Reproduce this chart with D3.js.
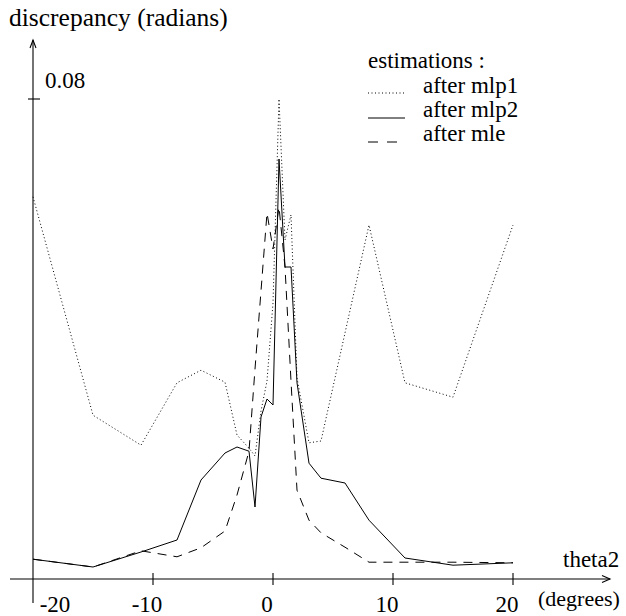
<!DOCTYPE html>
<html>
<head>
<meta charset="utf-8">
<script src="https://cdn.jsdelivr.net/npm/d3@7/dist/d3.min.js"></script>
<style>
  body { margin: 0; background: #fff; }
  svg { display: block; }
  svg text { font-family: "Liberation Serif", "Times New Roman", Times, "DejaVu Serif", serif !important; }
</style>
</head>
<body>
<svg class="chart"></svg>
<script>
// theta2 sample points (degrees)
var thetas = [-20, -15, -11, -8, -6, -4, -3, -2, -1.5, -1, -0.5, 0, 0.5, 1, 1.5, 2, 3, 4, 6, 8, 11, 15, 20];

// discrepancy (radians) for each estimator
var mlp1 = [0.0637, 0.0273, 0.0223, 0.0327, 0.0348, 0.0328, 0.0240, 0.0218, 0.0205, 0.0280, 0.0330, 0.0460,
            0.0800, 0.0565, 0.0607, 0.0335, 0.0227, 0.0230, 0.0410, 0.0590, 0.0327, 0.0303, 0.0590];
var mlp2 = [0.0033, 0.0020, 0.0045, 0.0065, 0.0165, 0.0210, 0.0220, 0.0213, 0.0120, 0.0270, 0.0300, 0.0290,
            0.0700, 0.0520, 0.0520, 0.0327, 0.0193, 0.0168, 0.0160, 0.0098, 0.0035, 0.0023, 0.0027];
var mle  = [0.0033, 0.0020, 0.0047, 0.0037, 0.0052, 0.0080, 0.0140, 0.0213, 0.0350, 0.0480, 0.0610, 0.0550,
            0.0620, 0.0520, 0.0330, 0.0148, 0.0098, 0.0077, 0.0053, 0.0028, 0.0028, 0.0028, 0.0027];

var xTicks = [-20, -10, 0, 10, 20];
var yTicks = [0.08];
var seriesNames = ["after mlp1", "after mlp2", "after mle"];

var width = 626, height = 616;
var dashes = ["1,2.5", null, "9,7"];

var svg = d3.select(".chart").attr("width", width).attr("height", height);

var x = d3.scaleLinear().domain([-20, 20]).range([33, 513]);
var y = d3.scaleLinear().domain([0, 0.08]).range([579, 99]);

// axes
var ax = svg.append("g").attr("stroke", "#000").attr("stroke-width", 1.1).attr("fill", "none");
ax.append("line").attr("x1", 10).attr("x2", 610).attr("y1", y(0)).attr("y2", y(0));
ax.append("path").attr("d", "M602," + (y(0) - 3.5) + "L610," + y(0) + "L602," + (y(0) + 3.5));
ax.append("line").attr("x1", x(-20)).attr("x2", x(-20)).attr("y1", 40).attr("y2", 603);
ax.append("path").attr("d", "M" + (x(-20) - 3) + ",48L" + x(-20) + ",40L" + (x(-20) + 3) + ",48");

ax.selectAll(".xt").data(xTicks.slice(1)).enter().append("line")
  .attr("x1", function(d) { return x(d); }).attr("x2", function(d) { return x(d); })
  .attr("y1", y(0) - 6).attr("y2", y(0) + 6);
ax.selectAll(".yt").data(yTicks).enter().append("line")
  .attr("x1", x(-20) - 5).attr("x2", x(-20) + 7)
  .attr("y1", function(d) { return y(d); }).attr("y2", function(d) { return y(d); });

svg.selectAll(".xl").data(xTicks).enter().append("text")
  .attr("x", function(d) { return d == -20 ? x(d) + 22 : x(d) - 6; })
  .attr("y", 612)
  .attr("text-anchor", "middle")
  .style("font-size", "23px")
  .text(function(d) { return d; });

svg.selectAll(".yl").data(yTicks).enter().append("text")
  .attr("x", x(-20) + 12)
  .attr("y", function(d) { return y(d) - 11; })
  .style("font-size", "23px")
  .text(function(d) { return d3.format(".2f")(d); });

svg.append("text").attr("x", 9).attr("y", 26).style("font-size", "25.5px").text("discrepancy (radians)");
svg.append("text").attr("x", 563).attr("y", 567).style("font-size", "23px").text("theta2");
svg.append("text").attr("x", 538).attr("y", 606).style("font-size", "22px").text("(degrees)");

// curves
var line = d3.line()
  .x(function(d) { return x(d[0]); })
  .y(function(d) { return y(d[1]); });

[mlp1, mlp2, mle].forEach(function(vals, i) {
  svg.append("path")
    .datum(thetas.map(function(t, j) { return [t, vals[j]]; }))
    .attr("d", line)
    .attr("fill", "none")
    .attr("stroke", "#000")
    .attr("stroke-width", 1)
    .attr("stroke-dasharray", dashes[i]);
});

// legend
var legend = svg.append("g");
legend.append("text").attr("x", 368).attr("y", 68).style("font-size", "23px").text("estimations :");
var item = legend.selectAll(".item").data(seriesNames).enter().append("g")
  .attr("transform", function(d, i) { return "translate(368," + (93 + i * 24) + ")"; });
item.append("line")
  .attr("x1", 0).attr("x2", function(d, i) { return i == 2 ? 30 : 37; })
  .attr("y1", function(d, i) { return i == 0 ? 0 : 1; }).attr("y2", function(d, i) { return i == 0 ? 0 : 1; })
  .attr("stroke", "#000").attr("stroke-width", 1)
  .attr("stroke-dasharray", function(d, i) { return i == 0 ? "1,2.5" : (i == 2 ? "10,9" : null); });
item.append("text").attr("x", 55).attr("y", 0).style("font-size", "23px").text(function(d) { return d; });
</script>
</body>
</html>
